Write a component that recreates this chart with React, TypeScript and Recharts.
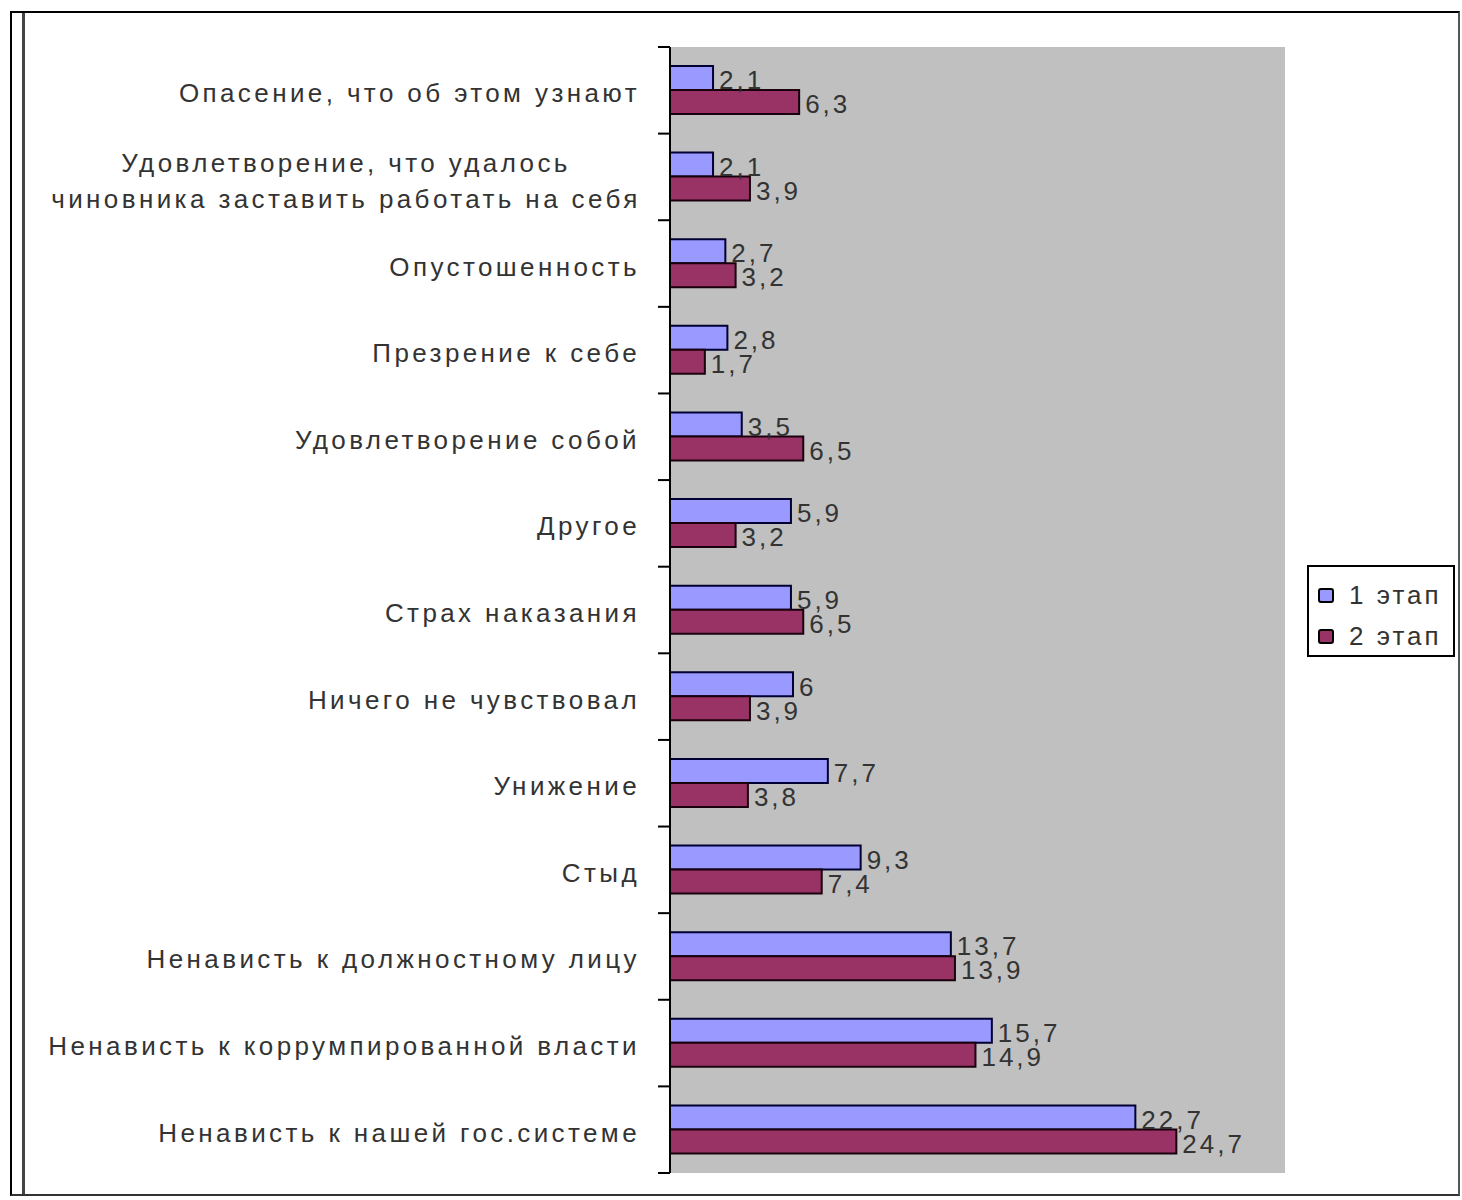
import React from 'react'
import { BarChart, Bar, XAxis, YAxis, CartesianGrid, Legend, LabelList } from 'recharts'

// categories, top to bottom as drawn
const categories = [
    'Опасение, что об этом узнают',
    'Удовлетворение, что удалось\nчиновника заставить работать на себя',
    'Опустошенность',
    'Презрение к себе',
    'Удовлетворение собой',
    'Другое',
    'Страх наказания',
    'Ничего не чувствовал',
    'Унижение',
    'Стыд',
    'Ненависть к должностному лицу',
    'Ненависть к коррумпированной власти',
    'Ненависть к нашей гос.системе',
]
const stage1 = [2.1, 2.1, 2.7, 2.8, 3.5, 5.9, 5.9, 6, 7.7, 9.3, 13.7, 15.7, 22.7]
const stage2 = [6.3, 3.9, 3.2, 1.7, 6.5, 3.2, 6.5, 3.9, 3.8, 7.4, 13.9, 14.9, 24.7]
const seriesNames = ['1 этап', '2 этап']
const seriesColors = ['#9999FF', '#993366']
const xDomain = [0, 30]

const data = categories.map((name, i) => ({ name, s1: stage1[i], s2: stage2[i] }))

const FONT = '"Liberation Sans", Arial, sans-serif'
const W = 1462
const H = 1200
const M = { top: 47, right: 177, bottom: 27, left: 0 }
const Y_W = 670
const band = (H - M.top - M.bottom) / categories.length

const fmt = (v: any) => String(v).replace('.', ',')

// label text + tick marks drawn at the band edges (Excel style)
function CatTick(props: any) {
    const { x, y, payload, index } = props
    const lines = String(payload.value).split('\n')
    const ax = x + 8
    const tx = x - 22
    return (
        <g>
            <line x1={ax - 12} x2={ax} y1={y - band / 2} y2={y - band / 2} stroke="#000" strokeWidth={2} />
            {index === categories.length - 1 && (
                <line x1={ax - 12} x2={ax} y1={y + band / 2} y2={y + band / 2} stroke="#000" strokeWidth={2} />
            )}
            {lines.length === 1 ? (
                <text x={tx} y={y + 12} textAnchor="end" fontFamily={FONT} fontSize={26} letterSpacing={3.4} fill="#333">{lines[0]}</text>
            ) : (
                <text x={tx - 294} y={y - 5} textAnchor="middle" fontFamily={FONT} fontSize={26} letterSpacing={3.4} fill="#333">
                    {lines.map((l, i) => (
                        <tspan key={i} x={tx - 294} dy={i === 0 ? 0 : 36}>{l}</tspan>
                    ))}
                </text>
            )}
        </g>
    )
}

function LegendBox() {
    return (
        <div style={{ width: 148, height: 92, boxSizing: 'border-box', border: '2px solid #000', padding: '8px 0 0 9px', background: '#fff', fontFamily: FONT, fontSize: 26, letterSpacing: 3, color: '#333' }}>
            {seriesNames.map((n, i) => (
                <div key={n} style={{ display: 'flex', alignItems: 'center', height: 41 }}>
                    <span style={{ width: 16, height: 15, background: seriesColors[i], border: '2px solid #000', borderRadius: 3, marginRight: 15, boxSizing: 'border-box' }} />
                    {n}
                </div>
            ))}
        </div>
    )
}

export default function App() {
    return (
        <div style={{ position: 'relative', width: W, height: H, overflow: 'hidden', background: '#fff' }}>
            <style>{'body{margin:0;overflow:hidden}'}</style>
            <div style={{ position: 'absolute', left: 10, top: 11, width: 1446, height: 1181, border: '2px solid #000', borderRightColor: '#555', borderBottomColor: '#333' }} />
            <div style={{ position: 'absolute', left: 22, top: 13, width: 3, height: 1181, background: '#444' }} />
            <div style={{ position: 'absolute', left: 0, top: 0 }}>
                <BarChart width={W} height={H} data={data} layout="vertical" margin={M} barGap={0} barSize={24}>
                    <CartesianGrid fill="#C0C0C0" horizontal={false} vertical={false} />
                    <XAxis type="number" domain={xDomain} hide />
                    <XAxis xAxisId="top" orientation="top" type="number" domain={xDomain} height={0} tick={false} tickLine={false} axisLine={{ stroke: '#808080', strokeWidth: 2 }} />
                    <XAxis xAxisId="bottom" orientation="bottom" type="number" domain={xDomain} height={0} tick={false} tickLine={false} axisLine={{ stroke: '#808080', strokeWidth: 2 }} />
                    <YAxis yAxisId="right" orientation="right" type="category" dataKey="name" width={0} tick={false} tickLine={false} axisLine={{ stroke: '#808080', strokeWidth: 2 }} />
                    <YAxis type="category" dataKey="name" width={Y_W} tick={<CatTick />} tickLine={false} interval={0} axisLine={{ stroke: '#000', strokeWidth: 2 }} />
                    <Legend layout="vertical" align="center" verticalAlign="middle" content={<LegendBox />} wrapperStyle={{ position: 'absolute', left: 1307, top: 565, width: 148 }} />
                    <Bar dataKey="s1" name={seriesNames[0]} fill={seriesColors[0]} stroke="#000033" strokeWidth={2} isAnimationActive={false}>
                        <LabelList dataKey="s1" position="right" offset={6} formatter={fmt} fill="#333" fontFamily={FONT} fontSize={26} letterSpacing={3} dy={2} />
                    </Bar>
                    <Bar dataKey="s2" name={seriesNames[1]} fill={seriesColors[1]} stroke="#1a000d" strokeWidth={2} isAnimationActive={false}>
                        <LabelList dataKey="s2" position="right" offset={6} formatter={fmt} fill="#333" fontFamily={FONT} fontSize={26} letterSpacing={3} dy={2} />
                    </Bar>
                </BarChart>
            </div>
        </div>
    )
}
